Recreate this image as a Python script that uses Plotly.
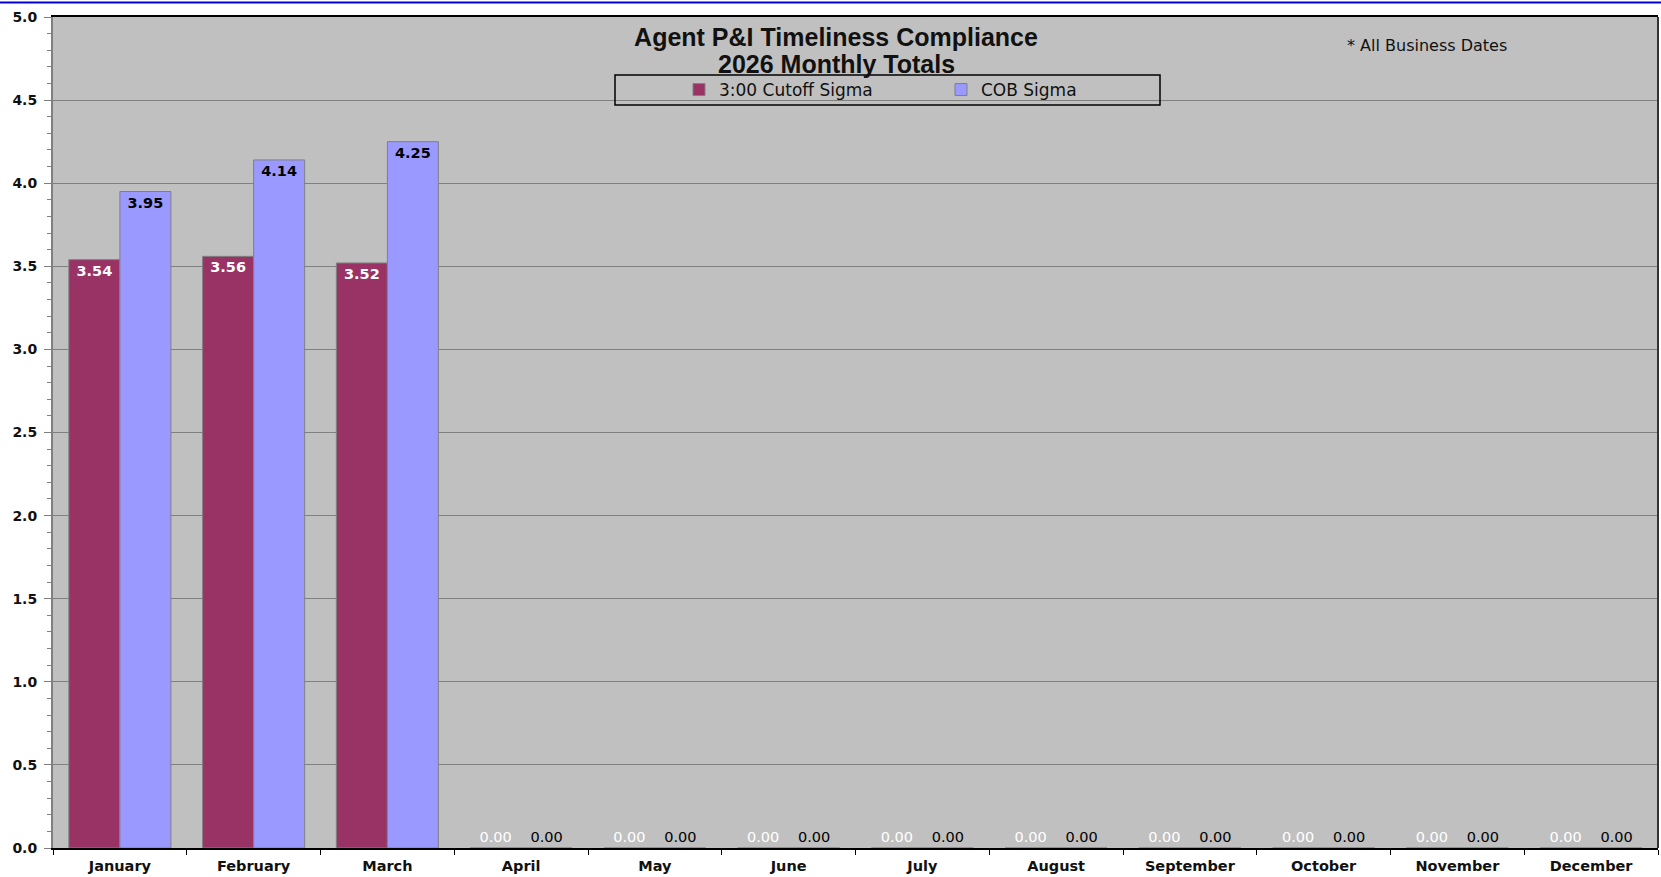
import plotly.graph_objects as go

months = ["January", "February", "March", "April", "May", "June", "July",
          "August", "September", "October", "November", "December"]
cutoff_sigma = [3.54, 3.56, 3.52, 0, 0, 0, 0, 0, 0, 0, 0, 0]
cob_sigma = [3.95, 4.14, 4.25, 0, 0, 0, 0, 0, 0, 0, 0, 0]
y_ticks = [0.0, 0.5, 1.0, 1.5, 2.0, 2.5, 3.0, 3.5, 4.0, 4.5, 5.0]
title_line1 = "Agent P&I Timeliness Compliance"
title_line2 = "2026 Monthly Totals"
note_text = "* All Business Dates"

W, H = 1661, 877
ML, MR, MT, MB = 53, 3, 17, 29
PW, PH = W - ML - MR, H - MT - MB


def px_x(px):
    return (px - ML) / PW


def px_y(py):
    return (H - MB - py) / PH


def positions(vals):
    return ["inside" if v > 0 else "outside" for v in vals]


def weights(vals):
    return ["bold" if v > 0 else "normal" for v in vals]


fig = go.Figure()
fig.add_trace(go.Bar(
    name="3:00 Cutoff Sigma", x=months, y=cutoff_sigma,
    marker=dict(color="#993366", line=dict(color="#808080", width=1)),
    texttemplate="%{y:.2f}", textposition=positions(cutoff_sigma),
    insidetextanchor="end", textangle=0,
    textfont=dict(family="DejaVu Sans", size=14.5, color="white",
                  weight=weights(cutoff_sigma)),
    cliponaxis=False,
))
fig.add_trace(go.Bar(
    name="COB Sigma", x=months, y=cob_sigma,
    marker=dict(color="#9999FF", line=dict(color="#808080", width=1)),
    texttemplate="%{y:.2f}", textposition=positions(cob_sigma),
    insidetextanchor="end", textangle=0,
    textfont=dict(family="DejaVu Sans", size=14.5, color="black",
                  weight=weights(cob_sigma)),
    cliponaxis=False,
))

fig.update_layout(
    width=W, height=H,
    margin=dict(l=ML, r=MR, t=MT, b=MB, pad=0),
    paper_bgcolor="white", plot_bgcolor="#C0C0C0",
    barmode="group", bargap=0.237, bargroupgap=0,
    font=dict(family="DejaVu Sans", color="black"),
    title=dict(
        text=title_line1,
        x=836 / W, xanchor="center", xref="container",
        y=1 - 37 / H, yanchor="middle", yref="container",
        font=dict(family="Liberation Sans", size=25, weight="bold", color="#111111"),
    ),
    legend=dict(
        orientation="h", x=px_x(679), xanchor="left",
        y=px_y(90), yanchor="middle",
        bgcolor="rgba(0,0,0,0)", borderwidth=0,
        entrywidth=217, entrywidthmode="pixels", itemwidth=30,
        font=dict(family="DejaVu Sans", size=17, color="#111111"),
        traceorder="normal",
    ),
    xaxis=dict(
        type="category", tickson="boundaries", ticks="outside", ticklen=5,
        tickcolor="black", tickwidth=1, showline=True, linecolor="black",
        linewidth=2, mirror=True, showgrid=False, ticklabelstandoff=4,
        tickfont=dict(family="DejaVu Sans", size=14.5, weight="bold", color="#111111"),
    ),
    yaxis=dict(
        range=[0, 5], tickvals=y_ticks, tickformat=".1f", ticks="outside",
        ticklen=7, tickcolor="#808080", tickwidth=1, showline=True,
        linecolor="#808080", linewidth=2, showgrid=True, gridcolor="#808080",
        gridwidth=1, zeroline=False, ticklabelstandoff=4,
        minor=dict(dtick=0.1, ticks="outside", ticklen=4, tickcolor="#808080",
                   showgrid=False),
        tickfont=dict(family="DejaVu Sans", size=14, weight="bold", color="#111111"),
    ),
    annotations=[
        dict(text=title_line2, xref="paper", yref="paper",
             x=px_x(836), y=px_y(63.5), xanchor="center", yanchor="middle",
             showarrow=False,
             font=dict(family="Liberation Sans", size=25, weight="bold", color="#111111")),
        dict(text=note_text, xref="paper", yref="paper",
             x=px_x(1345), y=px_y(46), xanchor="left", yanchor="middle",
             showarrow=False,
             font=dict(family="DejaVu Sans", size=16, color="#111111")),
    ],
    shapes=[
        dict(type="rect", xref="paper", yref="paper",
             x0=px_x(615), x1=px_x(1160), y0=px_y(105), y1=px_y(75),
             line=dict(color="black", width=1.5), fillcolor="rgba(0,0,0,0)"),
        dict(type="line", xref="paper", yref="paper",
             x0=1, x1=1, y0=0, y1=1, line=dict(color="#333333", width=2)),
        dict(type="line", xref="paper", yref="paper",
             x0=-ML / PW, x1=1 + MR / PW, y0=px_y(2.5), y1=px_y(2.5),
             line=dict(color="#0000CC", width=2)),
    ],
)

fig.write_html("out.html", config={"displayModeBar": False},
               post_script="document.body.style.margin='0';document.body.style.overflow='hidden';")
